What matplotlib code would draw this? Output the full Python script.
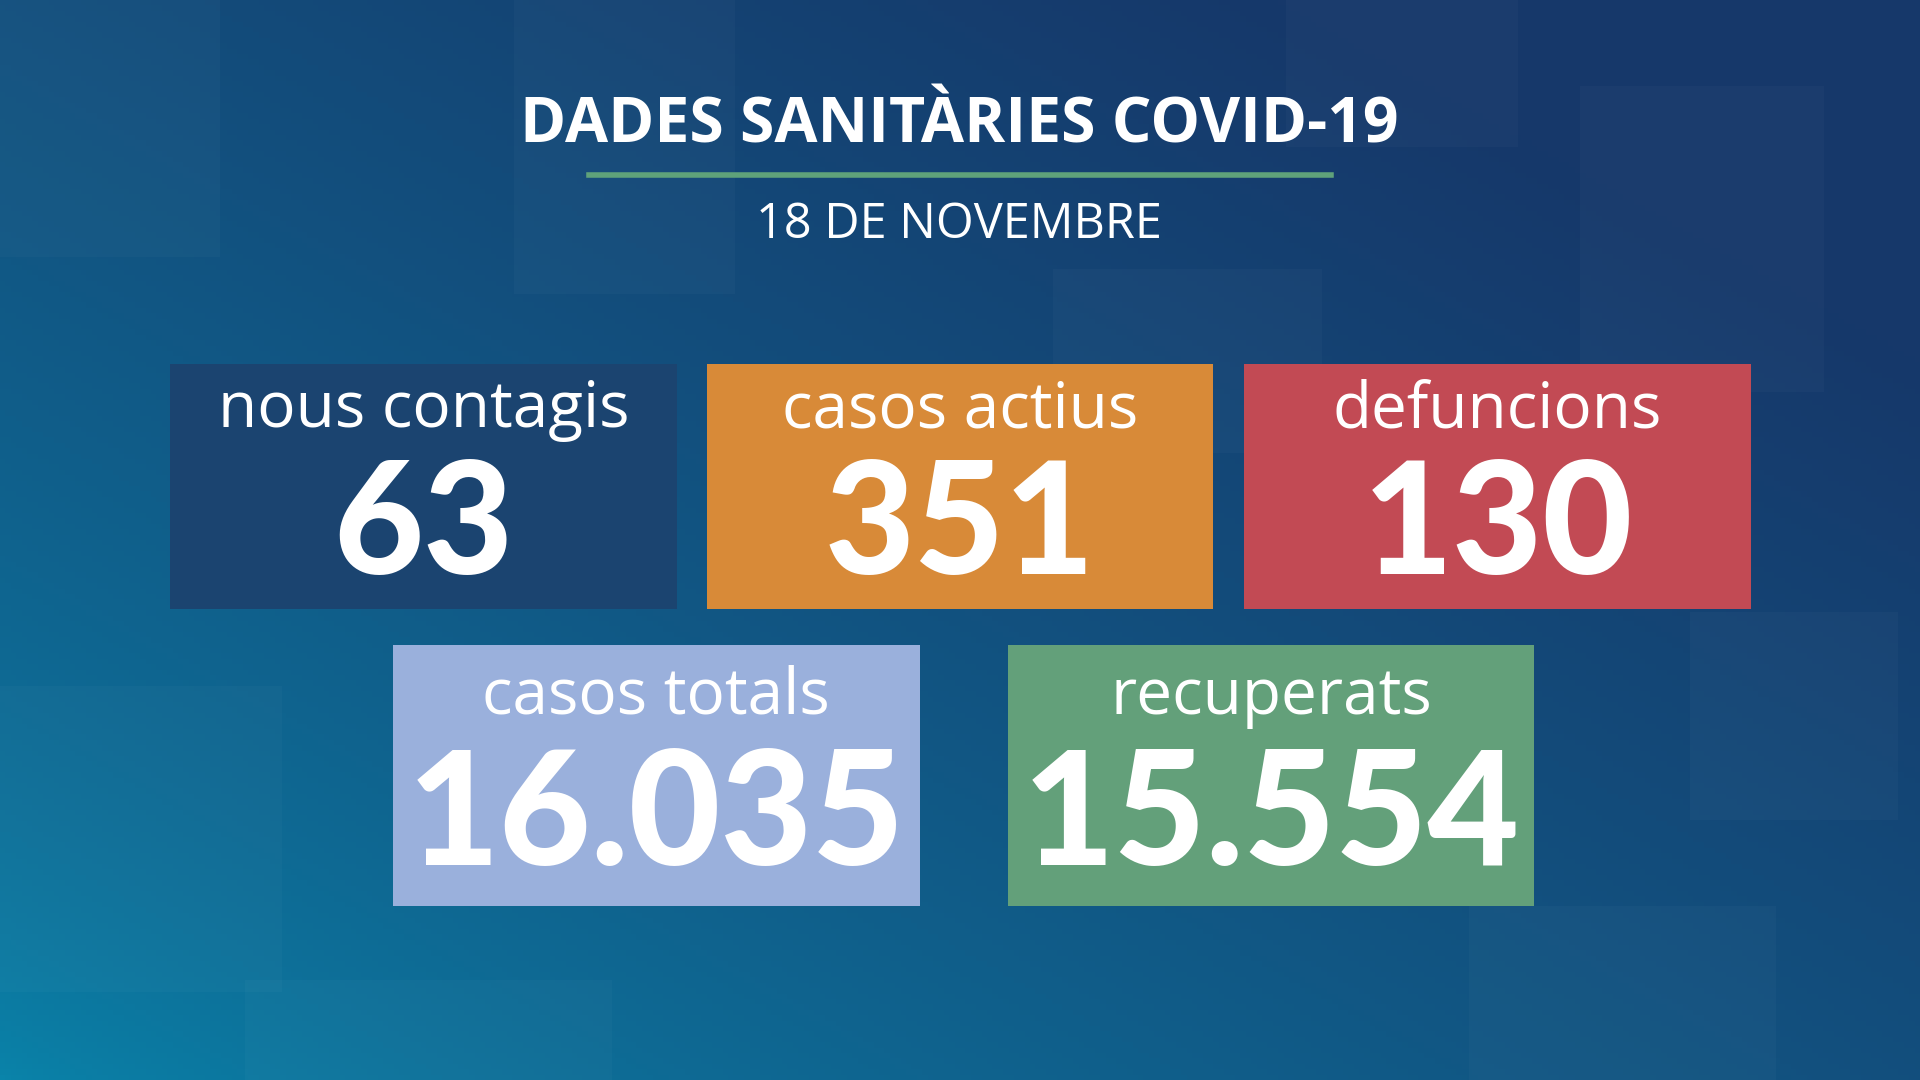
import matplotlib
matplotlib.use("Agg")
import matplotlib.pyplot as plt
import numpy as np
from matplotlib.patches import Rectangle

title = "DADES SANITÀRIES COVID-19"
subtitle = "18 DE NOVEMBRE"
labels = ["nous contagis", "casos actius", "defuncions", "casos totals", "recuperats"]
values = ["63", "351", "130", "16.035", "15.554"]
colors = ["#1b4470", "#d88a38", "#c24a54", "#9ab0dc", "#63a07a"]

W, H = 1568, 882
fig = plt.figure(figsize=(19.2, 10.8), dpi=100)
ax = fig.add_axes([0, 0, 1, 1])
ax.set_xlim(0, W); ax.set_ylim(H, 0); ax.axis("off")

# background gradient
yy, xx = np.mgrid[0:1:200j, 0:1:356j]
t = np.clip(0.6 * xx + 0.6 * (1 - yy), 0, 1) ** 0.7
c0 = np.array([0x0a, 0x84, 0xaa]) / 255
c1 = np.array([0x16, 0x38, 0x6a]) / 255
img = c0[None, None, :] * (1 - t[..., None]) + c1[None, None, :] * t[..., None]
ax.imshow(img, extent=[0, W, H, 0], aspect="auto", zorder=0)
for (x, y, w, h) in [(0, 0, 180, 210), (1290, 70, 200, 250), (0, 560, 230, 250),
                     (1380, 500, 170, 170), (420, 0, 180, 240), (860, 220, 220, 150),
                     (1200, 740, 250, 142), (200, 800, 300, 82), (1050, 0, 190, 120)]:
    ax.add_patch(Rectangle((x, y), w, h, color="white", alpha=0.025, lw=0, zorder=1))

ax.text(W / 2 - 1, 103, title, ha="center", va="center", color="white",
        fontsize=45, fontweight="bold", family="Open Sans", zorder=5)
ax.plot([481, 1087], [143, 143], color="#5fa27a", lw=4, zorder=5)
ax.text(W / 2 - 1, 184, subtitle, ha="center", va="center", color="white",
        fontsize=35, family="Open Sans", zorder=5)

boxes = [(139, 297, 414, 200), (577, 297, 414, 200), (1016, 297, 414, 200),
         (321, 527, 430, 213), (823, 527, 430, 213)]
for i, (x, y, w, h) in enumerate(boxes):
    ax.add_patch(Rectangle((x, y), w, h, color=colors[i], lw=0, zorder=3))
    ly = y + 38 if i < 3 else y + 42
    ax.text(x + w / 2, ly, labels[i], ha="center", va="center", color="white",
            fontsize=46, family="Open Sans", zorder=5)
    ny = y + 135 if i < 3 else y + 142
    ax.text(x + w / 2, ny, values[i], ha="center", va="center", color="white",
            fontsize=112 if i < 3 else 114, fontweight="black", family="Lato", zorder=5)

fig.savefig("out.png", dpi=100)
